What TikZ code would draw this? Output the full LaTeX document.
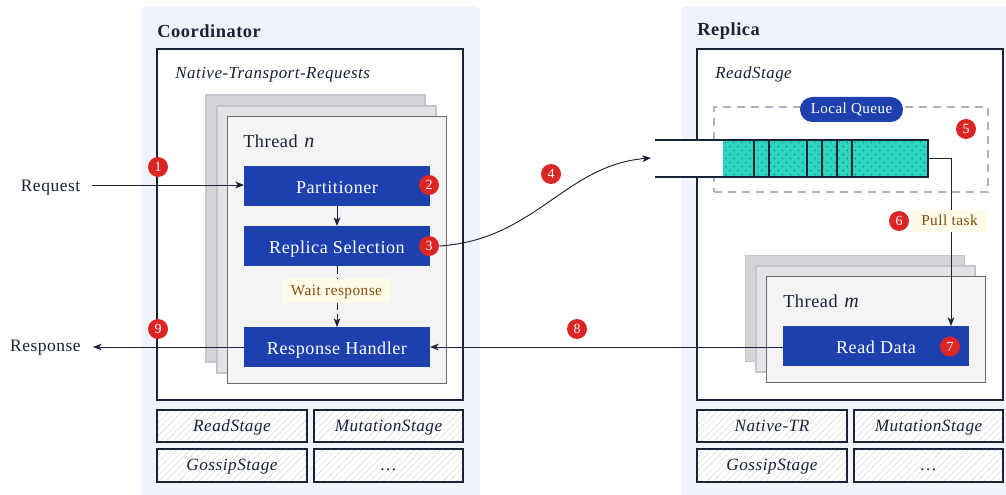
\documentclass[tikz,border=0pt]{standalone}
\usepackage{fontspec}
\setmainfont{Liberation Serif}[LetterSpace=3]
\usetikzlibrary{arrows.meta,patterns.meta,calc}
\definecolor{ink}{HTML}{1A2238}
\definecolor{panel}{HTML}{F0F3F9}
\definecolor{blu}{HTML}{1E40AF}
\definecolor{teal}{HTML}{2DD4BF}
\definecolor{tealdot}{HTML}{0F766E}
\definecolor{rd}{HTML}{DC2626}
\definecolor{lab}{HTML}{FEFCE8}
\definecolor{labt}{HTML}{854D0E}
\definecolor{dash}{HTML}{A9B4C8}
\definecolor{z3}{HTML}{D4D4D8}
\definecolor{z2}{HTML}{E4E4E7}
\definecolor{z1}{HTML}{F4F4F5}
\definecolor{zb}{HTML}{C4C4CC}
\definecolor{zd}{HTML}{6B6B74}
\newcommand{\fs}[1]{\fontsize{#1}{#1}\selectfont}
\newcommand{\bx}[7]{% name x1 y1 x2 y2 style text
  \pgfmathsetmacro{\cxx}{(#2+#4)/2}\pgfmathsetmacro{\cyy}{(#3+#5)/2}
  \pgfmathsetmacro{\www}{(#4-#2)*0.75}\pgfmathsetmacro{\hhh}{(#5-#3)*0.75}
  \node[#6,minimum width=\www pt,minimum height=\hhh pt] (#1) at (\cxx,\cyy) {#7};}
\tikzset{
  x=0.75pt,y=-0.75pt,
  base/.style={rectangle,inner sep=0pt,outer sep=0pt},
  panelbox/.style={base,fill=panel,rounded corners=3pt},
  mainbox/.style={base,draw=ink,line width=1.5pt,fill=white},
  th1/.style={base,draw=zb,fill=z3,line width=.8pt},
  th2/.style={base,draw=zb,fill=z2,line width=.8pt},
  th3/.style={base,draw=zd,fill=z1,line width=.75pt},
  blubox/.style={base,fill=blu,text=white,font=\fs{13.6},text height=11pt,text depth=0pt},
  stagebox/.style={base,draw=ink,line width=1.5pt,preaction={fill=white},
    pattern={Lines[angle=45,distance=3.5pt,line width=.35pt]},pattern color=black!15,
    font=\fs{12.9}\itshape,text=ink,text height=9.5pt,text depth=2pt},
  labbox/.style={base,fill=lab,text=labt,font=\fs{11.5},text height=9pt,text depth=2.5pt},
  num/.style={circle,fill=rd,text=white,inner sep=0pt,minimum size=15pt,font=\fs{10.5}},
  txt/.style={text=ink,inner sep=0pt,font=\fs{13.1}},
  ttl/.style={text=ink,inner sep=0pt,anchor=west,font=\fs{13.8}\bfseries},
  conn/.style={draw=ink,line width=.7pt,-{Stealth[length=6.5pt,width=5pt,inset=1.8pt]}},
}
\begin{document}
\begin{tikzpicture}
\useasboundingbox (0,0) rectangle (1006,495);
\clip (0,0) rectangle (1006,495);
% panels
\bx{pc}{141}{6}{480}{501}{panelbox}{}
\bx{pr}{681}{6}{1012}{501}{panelbox}{}
\node[ttl] (tc) at (157,31) {Coordinator};
\node[ttl] (tr) at (697,31) {Replica};
\bx{mc}{157}{49}{463}{400}{mainbox}{}
\bx{mr}{697}{49}{1003}{400}{mainbox}{}
\node[txt,anchor=west,font=\fs{12.7}\itshape] (ntr) at (175,74.5) {Native-Transport-Requests};
\node[txt,anchor=west,font=\fs{12.7}\itshape] (rs) at (715,74.5) {ReadStage};
% coordinator threads
\bx{a1}{206}{95}{425}{362}{th1}{}
\bx{a2}{217}{106}{436}{373}{th2}{}
\bx{a3}{227.5}{116.5}{446.5}{383}{th3}{}
\node[txt,anchor=west,font=\fs{13.7}] (tn) at (243,141) {Thread\hspace{5pt}{\fs{15}\itshape n}};
\bx{part}{244}{166}{430}{206}{blubox}{Partitioner}
\bx{rsel}{244}{226}{430}{266}{blubox}{Replica Selection}
\bx{resp}{244}{327}{430}{367}{blubox}{Response Handler}
% replica threads
\bx{b1}{745.5}{255.5}{964.5}{361.5}{th1}{}
\bx{b2}{756}{266}{975}{372}{th2}{}
\bx{b3}{766.5}{276.5}{985.5}{382.5}{th3}{}
\node[txt,anchor=west,font=\fs{13.7}] (tm) at (783,301) {Thread\hspace{5pt}{\fs{15}\itshape m}};
\bx{read}{783}{326}{969}{366}{blubox}{Read Data}
% local queue
\bx{lq}{714}{107}{988}{192}{base,draw=dash,line width=.8pt,dash pattern=on 6pt off 4.5pt}{}
\fill[white] (655,139.5) rectangle (723,177.5);
\coordinate (q1) at (655,140); \coordinate (q2) at (928,140);
\coordinate (q3) at (655,177.5); \coordinate (q4) at (928,177.5);
\bx{queue}{723}{140}{928}{177.5}{base,preaction={fill=teal},pattern={Dots[angle=45,distance=4.3pt,radius=.55pt]},pattern color=tealdot}{}
\foreach \q in {754,769,807,822,837,852}{\draw[ink,line width=1.1pt] (\q,140) -- (\q,177.5);}
\draw[ink,line width=1.5pt] (q1) -- (q2) -- (q4) -- (q3);
\bx{pill}{800}{97}{903}{122}{base,rounded corners=9.3pt,fill=blu,text=white,font=\fs{11.3}}{Local Queue}
% outside text
\node[txt,anchor=east] (req) at (80.5,187.5) {Request};
\node[txt,anchor=east] (res) at (81,347.5) {Response};
\coordinate (reqs) at (92,185);
\coordinate (rese) at (93,347);
\coordinate (q5) at (928,158);
\coordinate (q6) at (951,158);
\coordinate (q7) at (651,158);
% numbers
\node[num] (n3) at (429,246) {3};
% connectors
\draw[conn] (reqs) -- (reqs -| part.west);
\draw[conn] (part.south) -- (rsel.north);
\draw[conn,dash pattern=on 6pt off 3pt] (rsel.south) -- (resp.north);
\draw[conn] (resp.west) -- (rese);
\draw[conn] (read.west |- resp.east) -- (resp.east);
\draw[conn] (q5) -- (q6) -- (q6 |- read.north);
\draw[conn] (n3.east) .. controls (535,240) and (565,165) .. (q7);
\bx{wait}{282}{279}{391}{303}{labbox}{Wait response}
\bx{pull}{912}{210}{987}{232}{labbox}{Pull task}
% numbers
\node[num] (n1) at (158,167) {1};
\node[num] (n2) at (429,185) {2};
\node[num] (n4) at (551,174) {4};
\node[num] (n5) at (966,129) {5};
\node[num] (n6) at (899,221) {6};
\node[num] (n7) at (950,346.5) {7};
\node[num] (n8) at (577,329) {8};
\node[num] (n9) at (158,329) {9};
% stages
\bx{s1}{157}{410}{307}{442}{stagebox}{ReadStage}
\bx{s2}{314}{410}{463}{442}{stagebox}{MutationStage}
\bx{s3}{157}{449}{307}{482}{stagebox}{GossipStage}
\bx{s4}{314}{449}{463}{482}{stagebox}{\dots}
\bx{s5}{697}{410}{847}{442}{stagebox}{Native-TR}
\bx{s6}{854}{410}{1003}{442}{stagebox}{MutationStage}
\bx{s7}{697}{449}{847}{482}{stagebox}{GossipStage}
\bx{s8}{854}{449}{1003}{482}{stagebox}{\dots}
\end{tikzpicture}
\end{document}
